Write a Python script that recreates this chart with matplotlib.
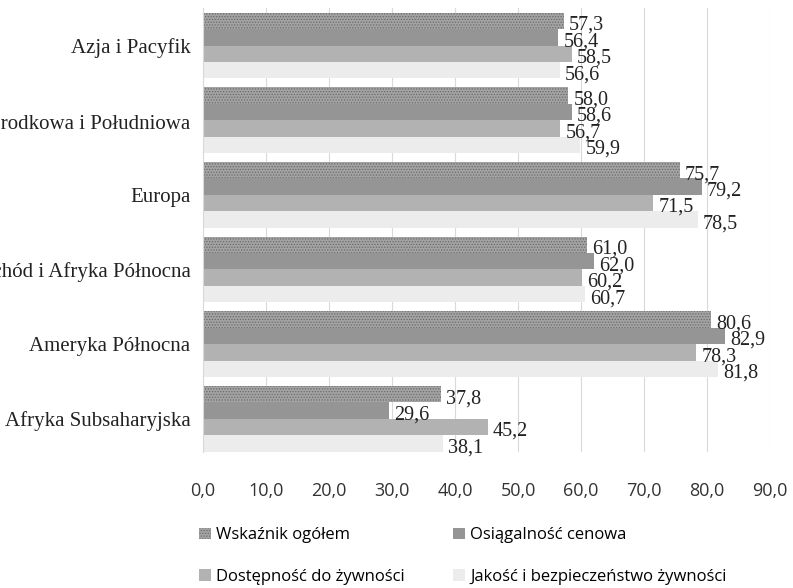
import numpy as np
import matplotlib
matplotlib.use("Agg")
from matplotlib import pyplot as plt

categories = ["Azja i Pacyfik", "Ameryka Środkowa i Południowa", "Europa",
              "Bliski Wschód i Afryka Północna", "Ameryka Północna",
              "Afryka Subsaharyjska"]
series_names = ["Wskaźnik ogółem", "Osiągalność cenowa",
                "Dostępność do żywności", "Jakość i bezpieczeństwo żywności"]
wskaznik = [57.3, 58.0, 75.7, 61.0, 80.6, 37.8]
osiagalnosc = [56.4, 58.6, 79.2, 62.0, 82.9, 29.6]
dostepnosc = [58.5, 56.7, 71.5, 60.2, 78.3, 45.2]
jakosc = [56.6, 59.9, 78.5, 60.7, 81.8, 38.1]
xticks = np.arange(0, 100, 10)

data = [wskaznik, osiagalnosc, dostepnosc, jakosc]
colors = ["#a3a3a3", "#959595", "#b2b2b2", "#ececec"]

plt.rcParams['hatch.linewidth'] = 0.6
fig = plt.figure(figsize=(7.93, 5.88), dpi=100)
ax = fig.add_axes([0.256, 0.232, 0.715, 0.754])

n = len(categories)
y = np.arange(n)
h = 0.22
bars = []
for i, vals in enumerate(data):
    pos = y - 1.5 * h + i * h
    if i == 0:
        b = ax.barh(pos, vals, height=h, color=colors[i], edgecolor="#6a6a6a",
                    hatch="......", linewidth=0, label=series_names[i])
    else:
        b = ax.barh(pos, vals, height=h, color=colors[i], linewidth=0,
                    label=series_names[i])
    bars.append(b)
    for p, v in zip(pos, vals):
        ax.text(v + 0.8, p + 0.06, f"{v:.1f}".replace(".", ","),
                va="center", ha="left", fontsize=14.5,
                family="Liberation Serif", color="#222222")

ax.set_ylim(n - 0.5 - 0.06, -0.5)
ax.set_xlim(0, 90)
ax.set_xticks(xticks)
ax.set_xticklabels([f"{t:.1f}".replace(".", ",") for t in xticks],
                   fontsize=13, color="#333333", family="Open Sans")
ax.set_yticks(y)
ax.set_yticklabels(categories, fontsize=15, family="Liberation Serif",
                   color="#222222")
ax.tick_params(axis="x", length=0, pad=22)
ax.tick_params(axis="y", length=0, pad=9)
ax.grid(axis="x", color="#d9d9d9", linewidth=0.8)
ax.set_axisbelow(True)
for s in ["top", "right", "bottom"]:
    ax.spines[s].set_visible(False)
ax.spines["left"].set_color("#d9d9d9")

handles = [bars[0], bars[2], bars[1], bars[3]]
labels = [series_names[0], series_names[2], series_names[1], series_names[3]]
fig.legend(handles, labels, ncol=2, loc="lower left",
           bbox_to_anchor=(0.232, -0.02), frameon=False,
           prop={"family": "Open Sans", "size": 12},
           handlelength=0.7, handleheight=0.7, handletextpad=0.3,
           columnspacing=2.95, labelspacing=1.52)

fig.savefig("out.png", dpi=100)
